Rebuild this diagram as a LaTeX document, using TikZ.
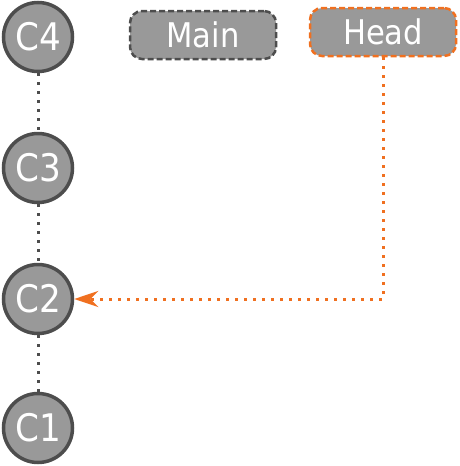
\documentclass[tikz,border=0pt]{standalone}
\usepackage{fontspec}
\newfontfamily\labelfont{DejaVu Sans Condensed}
\usetikzlibrary{arrows.meta}
\definecolor{commitfill}{HTML}{999999}
\definecolor{commitline}{HTML}{4D4D4D}
\definecolor{headorange}{HTML}{F07020}

\begin{document}
\begin{tikzpicture}[x=1pt,y=-1pt,
  commit/.style={circle,draw=commitline,fill=commitfill,line width=3.5pt,minimum size=69pt,inner sep=0pt,text=white,font=\labelfont\fontsize{38}{42}\selectfont},
  branch/.style={rounded corners=12pt,fill=commitfill,line width=2.5pt,dash pattern=on 6pt off 3pt,minimum width=146pt,minimum height=48pt,inner sep=0pt,text=white,font=\labelfont\fontsize{34}{38}\selectfont},
  parent/.style={draw=commitline,line width=3pt,dash pattern=on 3pt off 6pt},
  pointer/.style={draw=headorange,line width=3pt,dash pattern=on 3pt off 6pt,-{Stealth[length=24pt,width=16pt,inset=8pt]}}]
  \useasboundingbox (0,0) rectangle (460,466);

  \node[commit] (c4) at (38,37) {C4}; % newest commit
  \node[commit] (c3) at (38,168) {C3};
  \node[commit] (c2) at (38,299) {C2}; % checked out
  \node[commit] (c1) at (38,428) {C1};

  \node[branch,draw=commitline] (main) at (203,35) {Main};
  \node[branch,draw=headorange] (head) at (383,32) {Head};

  \draw[parent] (c4) -- (c3);
  \draw[parent] (c3) -- (c2);
  \draw[parent] (c2) -- (c1);

  % Head points to C2
  \draw[pointer] (head) |- (c2);

\end{tikzpicture}
\end{document}
